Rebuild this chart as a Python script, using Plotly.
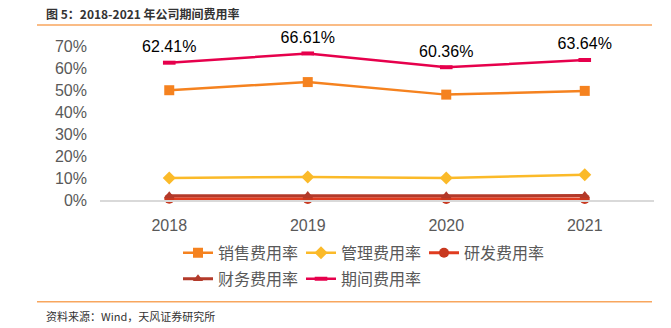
import plotly.graph_objects as go

years = ["2018", "2019", "2020", "2021"]
sales = [49.9, 53.6, 47.9, 49.6]
admin = [10.0, 10.5, 10.0, 11.5]
rnd = [0.6, 0.5, 0.5, 0.5]
finance = [1.9, 2.0, 1.9, 2.0]
total = [62.41, 66.61, 60.36, 63.64]
total_labels = ["62.41%", "66.61%", "60.36%", "63.64%"]

W, H = 671, 328
L, R, T, B = 100, 654, 45.5, 200
PW, PH = R - L, B - T


def px(x):
    return (x - L) / PW


def py(y):
    return (B - y) / PH


CJK = "Noto Sans CJK SC, Liberation Sans, sans-serif"
LAT = "Liberation Sans, Arial, sans-serif"

fig = go.Figure()
fig.add_trace(go.Scatter(x=years, y=[v / 100 for v in sales], name="销售费用率", mode="lines+markers",
                         line=dict(color="#F5821F", width=2.5),
                         marker=dict(symbol="square", size=10, color="#F5821F"), legend="legend"))
fig.add_trace(go.Scatter(x=years, y=[v / 100 for v in admin], name="管理费用率", mode="lines+markers",
                         line=dict(color="#FBBA29", width=2.5),
                         marker=dict(symbol="diamond", size=10, color="#FBBA29"), legend="legend"))
fig.add_trace(go.Scatter(x=years, y=[v / 100 for v in rnd], name="研发费用率", mode="lines+markers",
                         line=dict(color="#E03C1F", width=3),
                         marker=dict(symbol="circle", size=10, color="#C8381F"), legend="legend"))
fig.add_trace(go.Scatter(x=years, y=[v / 100 for v in finance], name="财务费用率", mode="lines+markers",
                         line=dict(color="#B33A2A", width=3),
                         marker=dict(symbol="triangle-up", size=9, color="#B33A2A"), legend="legend2"))
fig.add_trace(go.Scatter(x=years, y=[v / 100 for v in total], name="期间费用率", mode="lines+markers+text",
                         line=dict(color="#E6004C", width=2.5),
                         marker=dict(symbol="line-ew", size=9, color="#E6004C",
                                     line=dict(color="#E6004C", width=4)),
                         text=total_labels, textposition="top center",
                         textfont=dict(family=LAT, size=16, color="#000000"), legend="legend2"))

fig.update_layout(
    width=W, height=H,
    margin=dict(l=L, r=W - R, t=T, b=H - B, pad=0),
    plot_bgcolor="white", paper_bgcolor="white",
    showlegend=True,
    legend=dict(orientation="h", x=px(178), xanchor="left", y=py(253), yanchor="middle",
                font=dict(family=CJK, size=16, color="#595959"),
                entrywidth=78, entrywidthmode="pixels", itemwidth=30,
                bgcolor="rgba(0,0,0,0)", borderwidth=0),
    legend2=dict(orientation="h", x=px(178), xanchor="left", y=py(279), yanchor="middle",
                 font=dict(family=CJK, size=16, color="#595959"),
                 entrywidth=78, entrywidthmode="pixels", itemwidth=30,
                 bgcolor="rgba(0,0,0,0)", borderwidth=0),
    xaxis=dict(type="category", range=[-0.5, 3.5], showgrid=False, showline=True, linecolor="#D9D9D9",
               linewidth=1.5, ticks="", ticklabelstandoff=10,
               tickfont=dict(family=LAT, size=16, color="#595959"), zeroline=False),
    yaxis=dict(range=[0, 0.7], tickvals=[0, 0.1, 0.2, 0.3, 0.4, 0.5, 0.6, 0.7], tickformat=".0%",
               showgrid=False, showline=False, zeroline=False, ticks="",
               ticklabelstandoff=12,
               tickfont=dict(family=LAT, size=16, color="#595959")),
)
fig.update_traces(cliponaxis=False)

fig.add_annotation(text="<b>图 5：2018-2021 年公司期间费用率</b>", xref="paper", yref="paper",
                   x=px(44), y=py(12.5), xanchor="left", yanchor="middle", showarrow=False,
                   font=dict(family=CJK, size=12, color="#333333"))
fig.add_annotation(text="资料来源：Wind，天风证券研究所", xref="paper", yref="paper",
                   x=px(44), y=py(316), xanchor="left", yanchor="middle", showarrow=False,
                   font=dict(family=CJK, size=11, color="#333333"))
for yy in (24.5, 302):
    fig.add_shape(type="line", xref="paper", yref="paper", x0=px(37), x1=px(652), y0=py(yy), y1=py(yy),
                  line=dict(color="#F8A65E", width=1.5))

fig.write_html("out.html")
